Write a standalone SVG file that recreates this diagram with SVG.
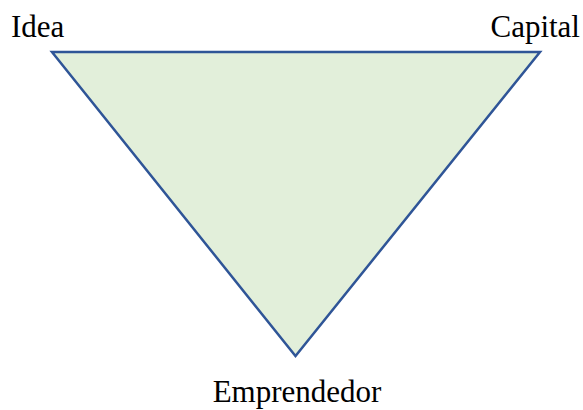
<svg xmlns="http://www.w3.org/2000/svg" width="583" height="410" viewBox="0 0 583 410">
<style>
text{font-family:"Liberation Serif","Times New Roman",serif;font-size:31px;fill:#000}
</style>
<rect width="583" height="410" fill="#fff"/>
<g id="triangle">
<polygon points="52,52 540,52 295.5,356" fill="#E2EFDA" stroke="#2F5597" stroke-width="2.5" stroke-linejoin="miter"/>
</g>
<g id="idea"><text x="11" y="37">Idea</text></g>
<g id="capital"><text x="580" y="37" text-anchor="end">Capital</text></g>
<g id="emprendedor"><text x="297" y="402" text-anchor="middle">Emprendedor</text></g>
</svg>
